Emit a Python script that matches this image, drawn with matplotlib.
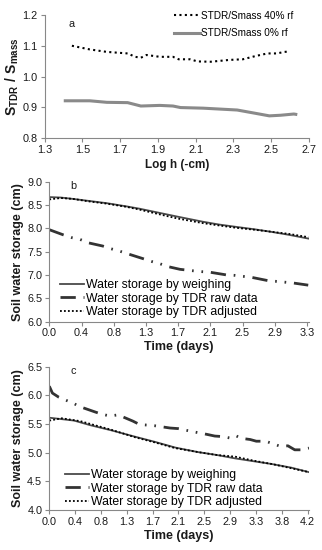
# ===[ Imports ]===============================================================
import numpy as np
import matplotlib
matplotlib.use("Agg")
import matplotlib.pyplot as plt


# ===[ Data: panel a ]=========================================================
logh_40 = [1.445, 1.54, 1.63, 1.74, 1.78, 1.81, 1.84, 1.91, 1.98, 2.01, 2.07,
           2.11, 2.18, 2.28, 2.35, 2.42, 2.48, 2.53, 2.57, 2.59]
ratio_40 = [1.100, 1.088, 1.080, 1.075, 1.064, 1.061, 1.070, 1.064, 1.064,
            1.056, 1.056, 1.049, 1.048, 1.054, 1.056, 1.067, 1.075, 1.075,
            1.080, 1.081]
logh_0 = [1.41, 1.54, 1.63, 1.74, 1.81, 1.91, 1.98, 2.02, 2.14, 2.32, 2.41,
          2.49, 2.55, 2.62, 2.63]
ratio_0 = [0.921, 0.921, 0.916, 0.915, 0.904, 0.906, 0.904, 0.899, 0.897,
           0.891, 0.881, 0.872, 0.874, 0.878, 0.877]

# ===[ Data: panel b ]=========================================================
t_b = [0.0, 0.15, 0.31, 0.5, 0.74, 1.0, 1.17, 1.4, 1.66, 1.99, 2.2, 2.42,
       2.65, 2.85, 3.1, 3.35]
weigh_b = [8.67, 8.66, 8.63, 8.59, 8.54, 8.47, 8.42, 8.34, 8.25, 8.14, 8.08,
           8.03, 7.98, 7.93, 7.86, 7.78]
adj_b = [8.62, 8.65, 8.63, 8.58, 8.53, 8.46, 8.40, 8.31, 8.21, 8.11, 8.06,
         8.01, 7.97, 7.93, 7.88, 7.81]
t_raw_b = [0.0, 0.18, 0.29, 0.40, 0.5, 0.69, 0.8, 0.91, 1.02, 1.21, 1.32,
           1.43, 1.53, 1.69, 1.85, 1.97, 2.07, 2.29, 2.4, 2.5, 2.61, 2.85,
           2.95, 3.07, 3.14, 3.35]
raw_b = [7.97, 7.86, 7.80, 7.76, 7.69, 7.62, 7.56, 7.51, 7.45, 7.35, 7.29,
         7.24, 7.18, 7.12, 7.09, 7.07, 7.06, 7.00, 6.99, 6.97, 6.95, 6.87,
         6.86, 6.84, 6.83, 6.78]
ticks_b = ["0.0", "0.4", "0.8", "1.3", "1.7", "2.1", "2.5", "2.9", "3.3"]

# ===[ Data: panel c ]=========================================================
t_c = [0.0, 0.4, 0.66, 1.0, 1.38, 1.7, 2.03, 2.4, 2.7, 3.0, 3.3, 3.6, 3.9,
       4.19]
weigh_c = [5.61, 5.56, 5.48, 5.39, 5.28, 5.19, 5.09, 5.01, 4.96, 4.90, 4.85,
           4.80, 4.74, 4.66]
t_adj_c = [0.0, 0.2, 0.5, 1.0, 1.38, 1.7, 2.03, 2.4, 2.7, 3.0, 3.3, 3.6, 3.9,
           4.19]
adj_c = [5.56, 5.60, 5.55, 5.40, 5.27, 5.18, 5.08, 5.01, 4.96, 4.93, 4.86,
         4.80, 4.73, 4.66]
t_raw_c = [0.0, 0.05, 0.15, 0.28, 0.39, 0.5, 0.74, 0.85, 0.98, 1.11, 1.35,
           1.46, 1.6, 1.7, 1.95, 2.08, 2.3, 2.54, 2.67, 2.81, 2.94, 3.02, 3.1,
           3.24, 3.34, 3.49, 3.73, 3.85, 3.96, 4.07, 4.19]
raw_c = [6.16, 6.04, 5.97, 5.91, 5.86, 5.80, 5.71, 5.67, 5.64, 5.66, 5.55,
         5.49, 5.48, 5.47, 5.43, 5.42, 5.37, 5.32, 5.29, 5.28, 5.25, 5.29,
         5.25, 5.23, 5.20, 5.20, 5.11, 5.12, 5.05, 5.05, 5.08]
ticks_c = ["0.0", "0.4", "0.8", "1.3", "1.7", "2.1", "2.5", "2.9", "3.3",
           "3.8", "4.2"]

legend_b = ["Water storage by weighing", "Water storage by TDR raw data",
            "Water storage by TDR adjusted"]

# ===[ Style ]=================================================================
plt.rcParams["font.family"] = ["Liberation Sans", "DejaVu Sans"]
plt.rcParams["mathtext.fontset"] = "custom"
plt.rcParams["mathtext.bf"] = "Liberation Sans:bold"
plt.rcParams["mathtext.rm"] = "Liberation Sans"

W, H = 322, 550
TXT = "#1a1a1a"
RAW_DASH = (0, (5.5, 2.8, 0.6, 2.8, 0.6, 2.8))


def px_axes(fig, left, top, right, bottom):
    return fig.add_axes([left / W, 1 - bottom / H, (right - left) / W,
                         (bottom - top) / H])


def excel_axes(ax):
    for s in ["top", "right"]:
        ax.spines[s].set_visible(False)
    for s in ["left", "bottom"]:
        ax.spines[s].set_color("#888888")
        ax.spines[s].set_linewidth(0.8)
    ax.tick_params(direction="out", length=3, width=0.8, color="#888888",
                   labelsize=7.8, labelcolor=TXT, pad=2)


fig = plt.figure(figsize=(W / 100, H / 100), dpi=100)

# ===[ Panel a ]===============================================================
ax = px_axes(fig, 44.5, 15, 309, 138)
ax.plot(logh_40, ratio_40, color="black", lw=1.5, ls=(0, (1, 1.6)),
        label="STDR/Smass 40% rf")
ax.plot(logh_0, ratio_0, color="#8a8a8a", lw=2.2,
        label="STDR/Smass 0% rf")
ax.set_xlim(1.3, 2.7)
ax.set_ylim(0.8, 1.2)
ax.set_xticks(np.arange(1.3, 2.71, 0.2))
ax.set_xticklabels([f"{v:.1f}" for v in np.arange(1.3, 2.71, 0.2)])
ax.set_yticks(np.arange(0.8, 1.21, 0.1))
ax.set_yticklabels([f"{v:.1f}" for v in np.arange(0.8, 1.21, 0.1)])
excel_axes(ax)
ax.set_xlabel("Log h (-cm)", fontsize=8.5, fontweight="bold", color=TXT,
              labelpad=3)
ax.set_ylabel(r"$\mathbf{S_{TDR}\ /\ S_{mass}}$", fontsize=10, color=TXT,
              labelpad=1)
ax.text(0.09, 0.9, "a", transform=ax.transAxes, fontsize=7.8, color=TXT)
ax.legend(loc="upper right", bbox_to_anchor=(0.94, 1.035), frameon=False,
          fontsize=7.2, handlelength=2.6, handletextpad=0.1,
          labelspacing=0.75, borderaxespad=0, borderpad=0)


# ===[ Panels b and c ]========================================================
def storage_panel(ax, t_w, w, t_a, a, t_r, r, ticks, xmax, ylim, letter,
                  leg_anchor):
    ax.plot(t_w, w, color="#4a4a4a", lw=1.3, label=legend_b[0])
    ax.plot(t_r, r, color="#333333", lw=2.0, ls=RAW_DASH, label=legend_b[1])
    ax.plot(t_a, a, color="black", lw=1.3, ls=(0, (1, 1.2)),
            label=legend_b[2])
    step = 10 / 24
    ax.set_xticks(np.arange(len(ticks)) * step)
    ax.set_xticklabels(ticks)
    ax.set_xlim(0, xmax)
    ax.set_ylim(*ylim)
    yt = np.arange(ylim[0], ylim[1] + 0.01, 0.5)
    ax.set_yticks(yt)
    ax.set_yticklabels([f"{v:.1f}" for v in yt])
    excel_axes(ax)
    ax.set_xlabel("Time (days)", fontsize=9, fontweight="bold", color=TXT,
                  labelpad=2)
    ax.set_ylabel("Soil water storage (cm)", fontsize=9, fontweight="bold",
                  color=TXT, labelpad=2)
    ax.text(0.08, 0.95, letter, transform=ax.transAxes, fontsize=7.8,
            color=TXT)
    ax.legend(loc="lower left", bbox_to_anchor=leg_anchor, frameon=False,
              fontsize=8.8, handlelength=2.0, handletextpad=0.15,
              labelspacing=0.12, borderaxespad=0, borderpad=0)


ax = px_axes(fig, 49.3, 181.7, 309, 321.5)
storage_panel(ax, t_b, weigh_b, t_b, adj_b, t_raw_b, raw_b, ticks_b, 3.36,
              (6.0, 9.0), "b", (0.041, 0.025))

ax = px_axes(fig, 49.3, 366.7, 309, 510)
storage_panel(ax, t_c, weigh_c, t_adj_c, adj_c, t_raw_c, raw_c, ticks_c, 4.19,
              (4.0, 6.5), "c", (0.06, 0.014))

fig.savefig("out.png", dpi=100)
